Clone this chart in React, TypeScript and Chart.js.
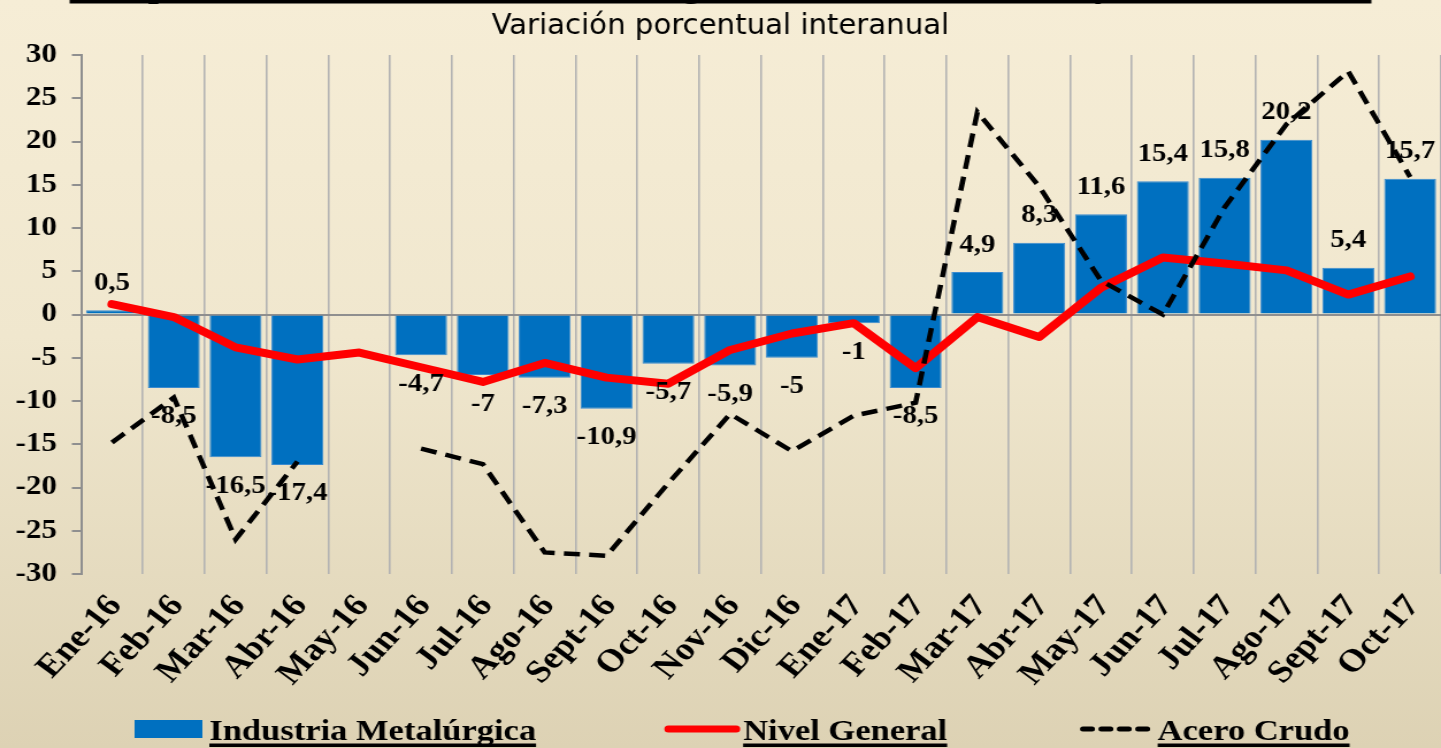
import React, { useEffect, useRef } from 'react';
import { Chart, registerables } from 'chart.js';

Chart.register(...registerables);

// ---------- data ----------
const categories = [
  'Ene-16', 'Feb-16', 'Mar-16', 'Abr-16', 'May-16', 'Jun-16', 'Jul-16', 'Ago-16',
  'Sept-16', 'Oct-16', 'Nov-16', 'Dic-16', 'Ene-17', 'Feb-17', 'Mar-17', 'Abr-17',
  'May-17', 'Jun-17', 'Jul-17', 'Ago-17', 'Sept-17', 'Oct-17',
];

const industriaMetalurgica = [
  0.5, -8.5, -16.5, -17.4, null, -4.7, -7, -7.3, -10.9, -5.7, -5.9, -5, -1, -8.5,
  4.9, 8.3, 11.6, 15.4, 15.8, 20.2, 5.4, 15.7,
];

const nivelGeneral = [
  1.2, -0.3, -3.8, -5.2, -4.4, -6.1, -7.8, -5.6, -7.3, -8.0, -4.1, -2.2, -1.0, -6.2,
  -0.3, -2.6, 3.1, 6.6, 5.9, 5.1, 2.3, 4.4,
];

const aceroCrudo = [
  -14.8, -9.6, -26.0, -17.0, null, -15.5, -17.3, -27.5, -27.9, -19.5, -11.5, -15.8,
  -11.7, -10.2, 23.4, 14.8, 3.9, 0, 12.4, 22.0, 28.1, 15.9,
];

const yTickValues = [-30, -25, -20, -15, -10, -5, 0, 5, 10, 15, 20, 25, 30];

const seriesNames = ['Industria Metalúrgica', 'Nivel General', 'Acero Crudo'];
const chartTitle = 'Comparación de la Industria Metalúrgica con el Nivel General y el Acero Crudo';
const chartSubtitle = 'Variación porcentual interanual';

// ---------- styling ----------
const SERIF = '"Liberation Serif", "Times New Roman", serif';
const SANS_C = '"DejaVu Sans Condensed", "DejaVu Sans", Verdana, sans-serif';
const VIEW_W = 1441;
const VIEW_H = 748;
const STRETCH = 1.15;
const CANVAS_W = Math.round(VIEW_W / STRETCH);
const CANVAS_H = VIEW_H;
const BLUE = '#0070C0';
const RED = '#FF0000';

const fmt = (v: number) => String(v).replace('.', ',');

const decorPlugin = {
  id: 'decor',
  afterDatasetsDraw(chart: any) {
    const ctx = chart.ctx as CanvasRenderingContext2D;
    const meta = chart.getDatasetMeta(0);
    ctx.save();
    ctx.font = `bold 25px ${SERIF}`;
    ctx.fillStyle = '#000';
    ctx.textAlign = 'center';
    ctx.textBaseline = 'middle';
    meta.data.forEach((el: any, i: number) => {
      const v = industriaMetalurgica[i];
      if (v === null || v === undefined) return;
      const y = v >= 0 ? el.y - 27 : el.y + 29;
      ctx.fillText(fmt(v), el.x, y);
    });
    ctx.restore();
  },
  afterDraw(chart: any) {
    const ctx = chart.ctx as CanvasRenderingContext2D;
    const cx = chart.width / 2;
    ctx.save();
    // title (mostly cut off above the view)
    ctx.font = `bold 36px ${SERIF}`;
    const tw0 = ctx.measureText(chartTitle).width;
    const targetW = 1132;
    const tsize = (36 * targetW) / tw0;
    ctx.font = `bold ${tsize}px ${SERIF}`;
    ctx.fillStyle = '#000';
    ctx.textAlign = 'center';
    ctx.textBaseline = 'alphabetic';
    ctx.fillText(chartTitle, cx, -3);
    ctx.fillRect(cx - targetW / 2, 0, targetW, 3.5);

    // subtitle, fitted to its width
    ctx.font = `28px ${SANS_C}`;
    const sw0 = ctx.measureText(chartSubtitle).width;
    const ssize = Math.min(30, (28 * 398) / sw0);
    ctx.font = `${ssize}px ${SANS_C}`;
    ctx.fillText(chartSubtitle, cx, 34);

    // legend
    const ly = 729;
    const lfont = `bold 30px ${SERIF}`;
    ctx.textAlign = 'left';
    ctx.textBaseline = 'alphabetic';
    const baseline = 739.5;
    const drawLabel = (text: string, x: number) => {
      ctx.font = lfont;
      ctx.fillStyle = '#000';
      ctx.fillText(text, x, baseline);
      const w = ctx.measureText(text).width;
      ctx.fillRect(x, 743.5, w, 3.5);
      return x + w;
    };
    let x = 117;
    ctx.fillStyle = BLUE;
    ctx.fillRect(x, ly - 9, 59, 18);
    x += 59 + 6;
    x = drawLabel(seriesNames[0], x);
    x += 112;
    ctx.strokeStyle = RED;
    ctx.lineWidth = 7;
    ctx.lineCap = 'round';
    ctx.beginPath();
    ctx.moveTo(x + 3, ly);
    ctx.lineTo(x + 62, ly);
    ctx.stroke();
    x += 62 + 6;
    x = drawLabel(seriesNames[1], x);
    x += 116;
    ctx.strokeStyle = '#000';
    ctx.lineWidth = 5;
    ctx.lineCap = 'round';
    ctx.setLineDash([8, 8]);
    ctx.beginPath();
    ctx.moveTo(x + 2, ly);
    ctx.lineTo(x + 62, ly);
    ctx.stroke();
    ctx.setLineDash([]);
    x += 62 + 5;
    drawLabel(seriesNames[2], x);
    ctx.restore();
  },
};

export default function App() {
  const ref = useRef<HTMLCanvasElement>(null);

  useEffect(() => {
    const canvas = ref.current;
    if (!canvas) return;
    const chart = new Chart(canvas, {
      type: 'bar',
      data: {
        labels: categories,
        datasets: [
          {
            type: 'bar',
            label: seriesNames[0],
            data: industriaMetalurgica,
            backgroundColor: BLUE,
            borderColor: '#3A8ACF',
            borderWidth: 1,
            barPercentage: 0.84,
            categoryPercentage: 1,
            order: 3,
          } as any,
          {
            type: 'line',
            label: seriesNames[1],
            data: nivelGeneral,
            borderColor: RED,
            backgroundColor: RED,
            borderWidth: 8,
            pointRadius: 0,
            borderCapStyle: 'round',
            borderJoinStyle: 'round',
            tension: 0,
            order: 2,
          } as any,
          {
            type: 'line',
            label: seriesNames[2],
            data: aceroCrudo,
            borderColor: '#000',
            backgroundColor: '#000',
            borderWidth: 4.5,
            borderDash: [14, 8],
            pointRadius: 0,
            spanGaps: false,
            tension: 0,
            order: 1,
          } as any,
        ],
      },
      options: {
        responsive: false,
        animation: false,
        layout: { padding: { top: 55, left: 0, right: 0, bottom: 0 } },
        plugins: {
          legend: { display: false },
          tooltip: { enabled: false },
          title: { display: false },
        },
        scales: {
          x: {
            offset: true,
            grid: { display: true, color: '#B2B2B2', lineWidth: 1.6, offset: true, drawTicks: false },
            border: { display: false },
            ticks: {
              autoSkip: false,
              maxRotation: 50,
              minRotation: 50,
              color: '#000',
              font: { family: SERIF, size: 32, weight: 'bold' },
              padding: 14,
              labelOffset: 3,
            },
            afterFit: (s: any) => {
              s.height = 174;
              s.paddingRight = 0;
              s.paddingLeft = 0;
            },
          },
          y: {
            min: -30,
            max: 30,
            afterBuildTicks: (s: any) => {
              s.ticks = yTickValues.map((v) => ({ value: v }));
            },
            ticks: {
              color: '#000',
              font: { family: SERIF, size: 27, weight: 'bold' },
              padding: 13,
            },
            grid: {
              color: (c: any) => (c.tick && c.tick.value === 0 ? '#8F8F8F' : 'rgba(0,0,0,0)'),
              lineWidth: 2,
              tickColor: '#8F8F8F',
              tickLength: 8,
              drawTicks: true,
            },
            border: { display: true, color: '#8F8F8F', width: 2 },
            afterFit: (s: any) => {
              s.width = 70.5;
            },
          },
        },
      } as any,
      plugins: [decorPlugin],
    });
    return () => chart.destroy();
  }, []);

  return (
    <div
      style={{
        position: 'fixed',
        left: 0,
        top: 0,
        width: VIEW_W,
        height: VIEW_H,
        overflow: 'hidden',
        background: 'linear-gradient(180deg, #F6EDD6 0%, #F0E7CE 45%, #DDD2B4 100%)',
      }}
    >
      <div
        style={{
          width: CANVAS_W,
          height: CANVAS_H,
          transform: `scaleX(${VIEW_W / CANVAS_W})`,
          transformOrigin: '0 0',
        }}
      >
        <canvas ref={ref} width={CANVAS_W} height={CANVAS_H} style={{ display: 'block' }} />
      </div>
    </div>
  );
}
